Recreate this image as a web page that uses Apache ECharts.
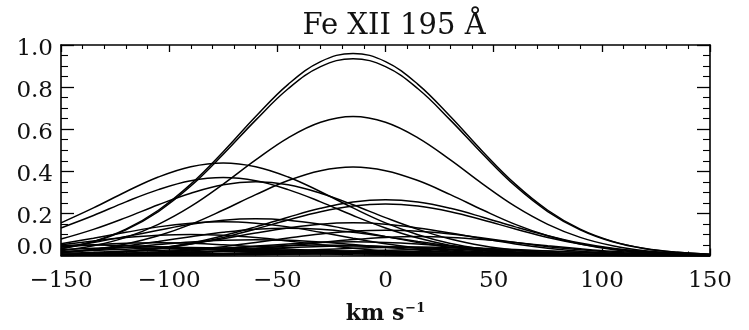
<!DOCTYPE html>
<html><head><meta charset="utf-8">
<script src="https://cdn.jsdelivr.net/npm/echarts@6/dist/echarts.min.js"></script>
<style>html,body{margin:0;padding:0;background:#fff}#c{width:749px;height:330px}</style>
</head><body><div id="c"></div>
<script>
// velocity grid (km/s)
const velocity = [-150,-135,-120,-105,-90,-75,-60,-45,-30,-15,0,15,30,45,60,75,90,105,120,135,150];
const titleText = 'Fe XII 195 Å';
// profiles centred near -15 km/s
const pA1 = [.033,.067,.125,.215,.339,.493,.660,.813,.921,.960,.921,.813,.660,.493,.339,.215,.125,.067,.033,.015,.006];
const pA2 = [.032,.065,.122,.209,.330,.481,.643,.792,.897,.935,.897,.792,.643,.481,.330,.209,.122,.065,.032,.015,.006];
const pA4 = [.022,.046,.086,.148,.233,.339,.454,.559,.633,.660,.633,.559,.454,.339,.233,.148,.086,.046,.022,.011,.004];
const pA5 = [.014,.029,.055,.094,.148,.216,.289,.356,.403,.420,.403,.356,.289,.216,.148,.094,.055,.029,.014,.007,.003];
const pA6 = [.004,.009,.019,.034,.059,.094,.136,.182,.224,.254,.265,.254,.224,.182,.136,.094,.059,.034,.019,.009,.004];
const pA7 = [.004,.008,.017,.032,.055,.086,.126,.169,.208,.235,.245,.235,.208,.169,.126,.086,.055,.032,.017,.008,.004];
const pA8 = [.005,.011,.020,.035,.055,.080,.107,.131,.149,.155,.149,.131,.107,.080,.055,.035,.020,.011,.005,.002,.001];
const pA9 = [.002,.004,.008,.016,.027,.042,.062,.083,.102,.115,.120,.115,.102,.083,.062,.042,.027,.016,.008,.004,.002];
const pA10 = [.001,.001,.003,.006,.012,.020,.032,.046,.062,.076,.086,.090,.086,.076,.062,.046,.032,.020,.012,.006,.003];
const pA11 = [.002,.005,.008,.015,.023,.033,.045,.055,.062,.065,.062,.055,.045,.033,.023,.015,.008,.005,.002,.001,.000];
const pA12 = [.000,.001,.001,.003,.005,.009,.014,.021,.028,.034,.038,.040,.038,.034,.028,.021,.014,.009,.005,.003,.001];
// profiles centred near -75 km/s
const pB1 = [.155,.226,.303,.373,.422,.440,.422,.373,.303,.226,.155,.099,.057,.031,.015,.007,.003,.001,.000,.000,.000];
const pB2 = [.131,.190,.255,.313,.355,.370,.355,.313,.255,.190,.131,.083,.048,.026,.013,.006,.002,.001,.000,.000,.000];
const pB3 = [.078,.124,.180,.241,.296,.336,.350,.336,.296,.241,.180,.124,.078,.046,.025,.012,.006,.002,.001,.000,.000];
const pB4 = [.039,.062,.090,.120,.148,.168,.175,.168,.148,.120,.090,.062,.039,.023,.012,.006,.003,.001,.000,.000,.000];
const pB5 = [.056,.082,.110,.136,.153,.160,.153,.136,.110,.082,.056,.036,.021,.011,.005,.003,.001,.000,.000,.000,.000];
const pB6 = [.017,.029,.046,.067,.089,.110,.125,.130,.125,.110,.089,.067,.046,.029,.017,.009,.004,.002,.001,.000,.000];
const pB7 = [.051,.069,.085,.096,.100,.096,.085,.069,.051,.035,.022,.013,.007,.003,.002,.001,.000,.000,.000,.000,.000];
const pB8 = [.017,.026,.039,.052,.064,.072,.075,.072,.064,.052,.039,.026,.017,.010,.005,.003,.001,.000,.000,.000,.000];
const pB9 = [.004,.007,.011,.018,.026,.034,.042,.048,.050,.048,.042,.034,.026,.018,.011,.007,.004,.002,.001,.000,.000];
// faint profiles near the baseline
const pC1 = [.011,.015,.021,.025,.029,.030,.029,.025,.021,.015,.011,.007,.004,.002,.001,.000,.000,.000,.000,.000,.000];
const pC2 = [.000,.001,.001,.003,.004,.007,.010,.014,.017,.019,.020,.019,.017,.014,.010,.007,.004,.003,.001,.001,.000];
const pC3 = [.003,.006,.009,.013,.017,.021,.024,.025,.024,.021,.017,.013,.009,.006,.003,.002,.001,.000,.000,.000,.000];
const pC4 = [.000,.000,.000,.001,.002,.003,.004,.006,.008,.010,.012,.012,.012,.010,.008,.006,.004,.003,.002,.001,.000];
const pC5 = [.028,.034,.038,.040,.038,.034,.028,.021,.014,.009,.005,.003,.001,.001,.000,.000,.000,.000,.000,.000,.000];
const pC6 = [.001,.002,.003,.005,.008,.010,.013,.014,.015,.014,.013,.010,.008,.005,.003,.002,.001,.001,.000,.000,.000];
const pC7 = [.048,.050,.048,.042,.034,.026,.018,.011,.007,.004,.002,.001,.000,.000,.000,.000,.000,.000,.000,.000,.000];
const pC8 = [.018,.024,.030,.034,.035,.034,.030,.024,.018,.012,.008,.005,.002,.001,.001,.000,.000,.000,.000,.000,.000];
const pC9 = [.000,.000,.000,.001,.002,.004,.007,.011,.015,.021,.025,.029,.030,.029,.025,.021,.015,.011,.007,.004,.002];
const pC10 = [.002,.003,.006,.010,.016,.023,.031,.038,.043,.045,.043,.038,.031,.023,.016,.010,.006,.003,.002,.001,.000];
const pC11 = [.004,.007,.010,.014,.017,.019,.020,.019,.017,.014,.010,.007,.004,.003,.001,.001,.000,.000,.000,.000,.000];
const pC12 = [.041,.051,.058,.060,.058,.051,.041,.031,.021,.013,.008,.004,.002,.001,.000,.000,.000,.000,.000,.000,.000];
const pC13 = [.000,.000,.001,.001,.002,.004,.005,.007,.008,.010,.010,.010,.008,.007,.005,.004,.002,.001,.001,.000,.000];
const profiles = [pA1,pA2,pA4,pA5,pA6,pA7,pA8,pA9,pA10,pA11,pA12,pB1,pB2,pB3,pB4,pB5,pB6,pB7,pB8,pB9,
  pC1,pC2,pC3,pC4,pC5,pC6,pC7,pC8,pC9,pC10,pC11,pC12,pC13];

const FONT = 'DejaVu Serif';
const chart = echarts.init(document.getElementById('c'), null, {renderer:'canvas'});
const minus = v => String(v).replace('-', '\u2212');
const baseX = {type:'value', min:-150, max:150, interval:50,
  axisLine:{show:true, onZero:false, lineStyle:{color:'#000', width:1.6}},
  axisTick:{show:true, inside:true, length:7, lineStyle:{color:'#000', width:1.3}},
  minorTick:{show:true, splitNumber:5, length:4, lineStyle:{color:'#000', width:1.1}},
  splitLine:{show:false}};
const baseY = {type:'value', min:0, max:1, interval:0.2,
  axisLine:{show:true, onZero:false, lineStyle:{color:'#000', width:1.6}},
  axisTick:{show:true, inside:true, length:13, lineStyle:{color:'#000', width:1.3}},
  minorTick:{show:true, splitNumber:4, length:7, lineStyle:{color:'#000', width:1.1}},
  splitLine:{show:false}};
const yLab = {fontFamily:FONT, fontSize:23, color:'#111'};
chart.setOption({
  animation:false,
  backgroundColor:'#fff',
  title:{text:titleText, left:389, top:7, textAlign:'center',
    textStyle:{fontFamily:FONT, fontSize:29, fontWeight:'normal', color:'#111'}},
  grid:{left:61, right:39, top:45, bottom:69},
  xAxis:[
    Object.assign({}, baseX, {position:'bottom',
      axisLabel:{fontFamily:FONT, fontSize:23, color:'#111', margin:14, formatter:minus},
      name:'{b|km s}{s|\u22121}', nameLocation:'middle', nameGap:47,
      nameTextStyle:{rich:{b:{fontFamily:FONT, fontSize:22, fontWeight:'bold', color:'#111'},
        s:{fontFamily:FONT, fontSize:13, fontWeight:'bold', color:'#111', verticalAlign:'top', padding:[0,0,10,1]}}}}),
    Object.assign({}, baseX, {position:'top', axisLabel:{show:false}})
  ],
  yAxis:[
    Object.assign({}, baseY, {position:'left',
      axisLabel:{margin:8, formatter:v => v === 0 ? '{z|0.0}' : '{d|' + v.toFixed(1) + '}',
        rich:{d:Object.assign({padding:[8,0,0,0]}, yLab), z:Object.assign({padding:[0,0,14,0]}, yLab)}}}),
    Object.assign({}, baseY, {position:'right', axisLabel:{show:false}})
  ],
  series: profiles.map(p => ({
    type:'line', xAxisIndex:0, yAxisIndex:0, smooth:0.4, showSymbol:false, silent:true,
    clip:true, lineStyle:{color:'#000', width:1.5},
    data: velocity.map((v,i)=>[v, p[i]])
  }))
});
</script></body></html>
